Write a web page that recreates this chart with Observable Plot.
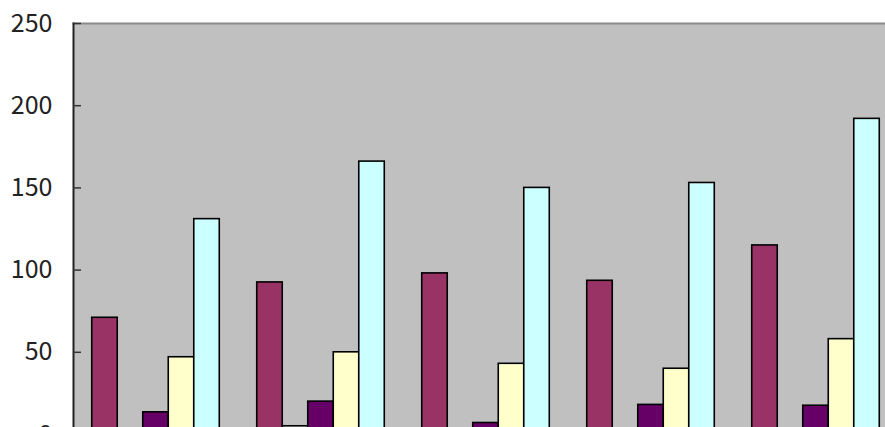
<!DOCTYPE html>
<html>
<head>
<meta charset="utf-8">
<script src="https://cdn.jsdelivr.net/npm/d3@7"></script>
<script src="https://cdn.jsdelivr.net/npm/@observablehq/plot@0.6"></script>
<style>
  html, body { margin: 0; padding: 0; background: #fff; overflow: hidden; }
  #chart svg { display: block; max-width: none !important; }
</style>
</head>
<body>
<div id="chart"></div>
<script>
// ---- data ----
const groups = ["1", "2", "3", "4", "5"];
const seriesNames = ["A", "B", "C", "D", "E"];
const seriesColors = ["#993366", "#E0E0E0", "#660066", "#FFFFCC", "#CCFFFF"];
const valuesA = [71, 92.5, 98, 93.5, 115];
const valuesB = [0, 5, 0, 0, 0];
const valuesC = [13.5, 20, 7, 18, 17.5];
const valuesD = [47, 50, 43, 40, 58];
const valuesE = [131, 166, 150, 153, 192];
const yTicks = [0, 50, 100, 150, 200, 250];

const seriesValues = [valuesA, valuesB, valuesC, valuesD, valuesE];
const rows = [];
seriesNames.forEach((s, i) => groups.forEach((g, j) => rows.push({group: g, series: s, value: seriesValues[i][j]})));

// layout of bars within each group band
const W = 898, ML = 73;
const step = (W - ML) / groups.length;     // 165
const gap = step * 0.227;                    // space between groups
const barW = (step - gap) / seriesNames.length;

const barMarks = seriesNames.map((s, i) => Plot.barY(rows.filter(r => r.series === s), {
  x: "group",
  y: "value",
  fill: seriesColors[i],
  stroke: "#000",
  strokeWidth: 1.6,
  insetLeft: gap / 2 + barW * i,
  insetRight: step - gap / 2 - barW * (i + 1)
}));

const chart = Plot.plot({
  width: W,
  height: 445,
  marginLeft: ML,
  marginRight: 0,
  marginTop: 23,
  marginBottom: 11,
  style: {fontFamily: "'Noto Sans CJK JP', 'Noto Sans', sans-serif", fontSize: "25px", color: "#222", background: "#fff", maxWidth: "none"},
  x: {domain: groups, paddingInner: 0, paddingOuter: 0, axis: null},
  y: {domain: [0, 250], axis: null, label: null},
  marks: [
    Plot.frame({fill: "#C0C0C0", stroke: "none"}),
    ...barMarks,
    Plot.frame({anchor: "top", stroke: "#8a8a8a", strokeWidth: 2}),
    Plot.frame({anchor: "left", stroke: "#222", strokeWidth: 2}),
    Plot.tickY(yTicks, {y: d => d, stroke: "#333", strokeWidth: 1.5, insetRight: W - ML - 8}),
    Plot.axisY(yTicks, {anchor: "left", tickSize: 0, tickPadding: 21, fontSize: 25, label: null})
  ]
});
document.getElementById("chart").appendChild(chart);
</script>
</body>
</html>
